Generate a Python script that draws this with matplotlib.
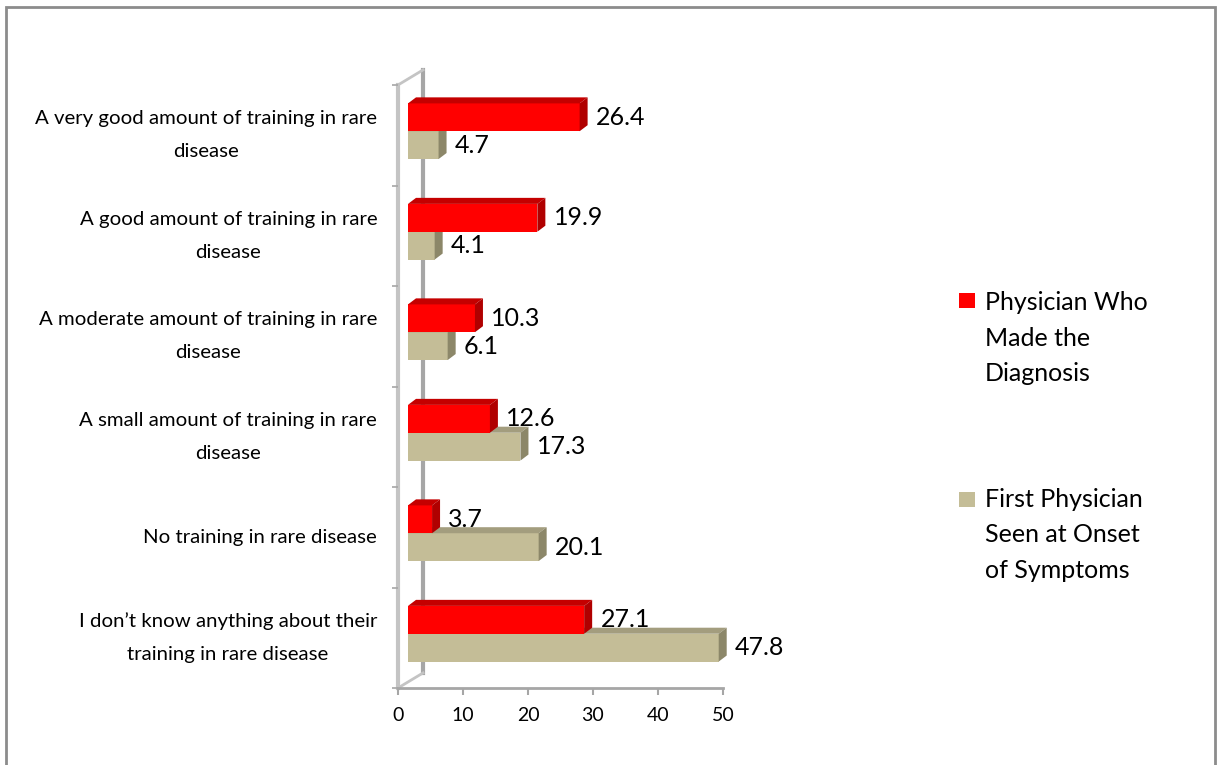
import matplotlib.pyplot as plt
from matplotlib.patches import Polygon, Rectangle

# data (bottom category first)
categories = [
    "I don\u2019t know anything about their\ntraining in rare disease",
    "No training in rare disease",
    "A small amount of training in rare\ndisease",
    "A moderate amount of training in rare\ndisease",
    "A good amount of training in rare\ndisease",
    "A very good amount of training in rare\ndisease",
]
diagnosis = [27.1, 3.7, 12.6, 10.3, 19.9, 26.4]
first_seen = [47.8, 20.1, 17.3, 6.1, 4.1, 4.7]
series_names = ["Physician Who\nMade the\nDiagnosis", "First Physician\nSeen at Onset\nof Symptoms"]
xticks = [0, 10, 20, 30, 40, 50]

plt.rcParams['font.family'] = ['Lato', 'DejaVu Sans']

W, H = 1217, 765
fig = plt.figure(figsize=(W / 100, H / 100), dpi=100)
ax = fig.add_axes([398 / W, (H - 688) / H, 325 / W, 603 / H])
ax.set_xlim(0, 50)
ax.set_ylim(0, len(categories))
for s in ax.spines.values():
    s.set_visible(False)

# 3d look (data units)
X0 = 1.54      # bar front offset from wall
DX, DY = 1.23, 0.06   # bar depth
WX, WY = 3.85, 0.15   # wall depth
BH = 0.277
SHIFT = 0.04

red = ('#FF0000', '#C40000', '#B00000')
tan = ('#C4BD97', '#A39D7E', '#8C8769')

# wall and floor
n = len(categories)
ax.plot([WX, WX], [WY, n + WY], color='#A6A6A6', lw=3, zorder=1, clip_on=False)
ax.plot([0, 0], [0, n], color='#C4C4C4', lw=3, zorder=1, clip_on=False)
ax.plot([0, WX], [n, n + WY], color='#C4C4C4', lw=2, zorder=1, clip_on=False)
ax.plot([0, WX], [0, WY], color='#C4C4C4', lw=2, zorder=1, clip_on=False)
ax.plot([0, 50], [0, 0], color='#A6A6A6', lw=2, zorder=1, clip_on=False)


def bars3d(ys, vals, colors, z):
    front, top, side = colors
    ax.barh(ys, vals, height=BH, left=X0, color=front, align='edge', zorder=z, clip_on=False)
    for y, v in zip(ys, vals):
        x1 = X0 + v
        ax.add_patch(Polygon([(X0, y + BH), (x1, y + BH), (x1 + DX, y + BH + DY), (X0 + DX, y + BH + DY)],
                             closed=True, facecolor=top, edgecolor='none', zorder=z, clip_on=False))
        ax.add_patch(Polygon([(x1, y), (x1 + DX, y + DY), (x1 + DX, y + BH + DY), (x1, y + BH)],
                             closed=True, facecolor=side, edgecolor='none', zorder=z, clip_on=False))
        ax.annotate(f"{v}", (x1 + DX, y + BH / 2), xytext=(6, 0), textcoords='offset points',
                    ha='left', va='center', fontsize=18, color='black', zorder=5,
                    annotation_clip=False)


centers = [i + 0.5 for i in range(n)]
bars3d([c + SHIFT - BH for c in centers], first_seen, tan, 2)
bars3d([c + SHIFT for c in centers], diagnosis, red, 3)

# axes ticks
ax.set_xticks(xticks)
ax.set_xticklabels([str(t) for t in xticks], fontsize=14)
ax.tick_params(axis='x', length=5, width=1.5, color='#A6A6A6', pad=9)
ax.set_yticks(centers)
ax.set_yticklabels(categories, fontsize=14.7, linespacing=2.13)
ax.set_yticks(range(n + 1), minor=True)
ax.tick_params(axis='y', which='major', length=0, pad=15)
ax.tick_params(axis='y', which='minor', length=4, width=1.2, color='#A6A6A6')
for t in ax.get_yticklabels():
    t.set_multialignment('center')
    t.set_verticalalignment('center')

# legend
leg_colors = [red[0], tan[0]]
leg_sq = [293, 492]
leg_txt = [338, 535]
for name, c, sy, ty in zip(series_names, leg_colors, leg_sq, leg_txt):
    fig.patches.append(Rectangle((959 / W, 1 - (sy + 15) / H), 16 / W, 15 / H,
                                 facecolor=c, edgecolor='none', transform=fig.transFigure))
    fig.text(985 / W, 1 - ty / H, name, fontsize=18, ha='left', va='center', linespacing=1.65)

# outer border
fig.patches.append(Rectangle((6 / W, -0.05), 1209 / W, 1.05 - 7 / H, fill=False,
                             edgecolor='#8C8C8C', lw=2, transform=fig.transFigure))

fig.savefig('out.png', dpi=100)
